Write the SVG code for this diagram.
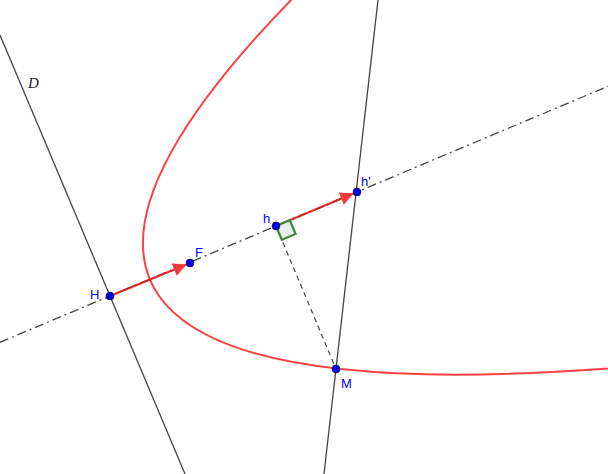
<svg xmlns="http://www.w3.org/2000/svg" width="608" height="474" viewBox="0 0 608 474">
<style>
.ln{stroke:#444;stroke-width:1.3;fill:none}
.axis{stroke:#444;stroke-width:1.3;fill:none;stroke-dasharray:9,4,2,4}
.dash{stroke:#444;stroke-width:1.2;fill:none;stroke-dasharray:5,4}
.vec{stroke:#dd1a1a;stroke-width:2.4;fill:none;stroke-opacity:0.9}
.par{stroke:#ff4040;stroke-width:2;fill:none}
.pt{fill:#0000ee;stroke:#101040;stroke-width:0.8}
.lbl{font-family:"Liberation Sans","DejaVu Sans",sans-serif;font-size:13px;fill:#0000ff}
</style>
<defs>
<marker id="ah" viewBox="0 0 10 10" refX="10" refY="5" markerWidth="6" markerHeight="5.5" orient="auto" markerUnits="strokeWidth">
<path d="M0,0 L10,5 L0,10 Z" fill="#ee3a3a"/>
</marker>
</defs>
<rect width="608" height="474" fill="#ffffff"/>
<g id="connectors">
<line id="D" class="ln" x1="0" y1="35" x2="185" y2="474"/>
<line id="tangent" class="ln" x1="378" y1="0" x2="324" y2="474"/>
<line id="axis" class="axis" x1="0" y1="342.3" x2="608" y2="86.3"/>
<line id="hM" class="dash" x1="276" y1="226" x2="336" y2="369"/>
<path id="parabola" class="par" d="M312.9,-22 Q-153.2,439.3 658.9,364.1"/>
<line id="vHF" class="vec" x1="110" y1="296" x2="186.5" y2="264.5" marker-end="url(#ah)"/>
<line id="vhh" class="vec" x1="276" y1="226" x2="353.5" y2="193.5" marker-end="url(#ah)"/>
</g>
<g id="rightangle">
<path d="M276,226 L289.8,220.2 L295.6,234 L281.8,239.8 Z" fill="#e6f0e6" fill-opacity="0.9" stroke="#3a8a3a" stroke-width="2.2"/>
</g>
<g id="node-H"><circle class="pt" cx="110" cy="296" r="3.9"/><text class="lbl" x="90" y="299">H</text></g>
<g id="node-F"><circle class="pt" cx="190" cy="263" r="3.9"/><text class="lbl" x="195" y="257">F</text></g>
<g id="node-h"><circle class="pt" cx="276" cy="226" r="3.9"/><text class="lbl" x="263" y="223">h</text></g>
<g id="node-hp"><circle class="pt" cx="357" cy="192" r="3.9"/><text class="lbl" x="361" y="186" font-size="12">h'</text></g>
<g id="node-M"><circle class="pt" cx="336" cy="369" r="3.9"/><text class="lbl" x="341" y="388">M</text></g>
<g id="label-D"><text x="28" y="88" font-family="'Liberation Serif',serif" font-style="italic" font-size="15" fill="#222">D</text></g>
</svg>
